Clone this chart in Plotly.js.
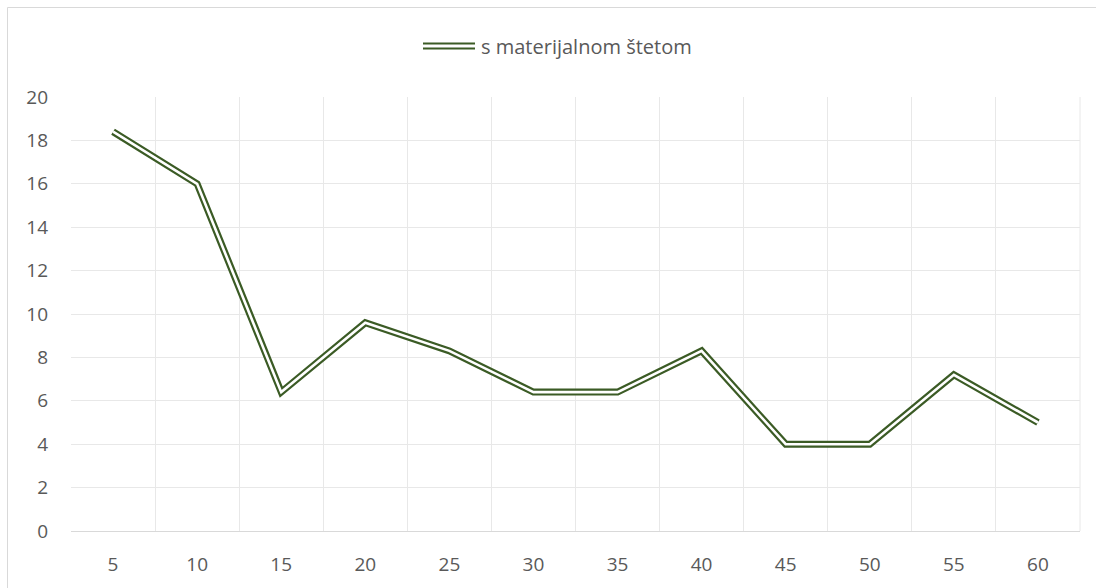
<!DOCTYPE html>
<html>
<head>
<meta charset="utf-8">
<script src="https://cdn.plot.ly/plotly-3.0.1.min.js"></script>
<style>html,body{margin:0;padding:0;background:#fff;}#chart{width:1096px;height:588px;}</style>
</head>
<body>
<div id="chart"></div>
<script>
const categories = ["5","10","15","20","25","30","35","40","45","50","55","60"];
const values = [18.4, 16.0, 6.4, 9.6, 8.3, 6.4, 6.4, 8.3, 4.0, 4.0, 7.2, 5.0];
const seriesName = "s materijalnom štetom";
const yTicks = [0,2,4,6,8,10,12,14,16,18,20];

const lineColor = "#3b5b25";
const textColor = "#595959";
const fontFamily = "Open Sans, Liberation Sans, sans-serif";
const fontSize = 19;

const outer = {
  x: categories, y: values, type: "scatter", mode: "lines", name: seriesName,
  line: {color: lineColor, width: 7}, showlegend: false, hoverinfo: "skip"
};
const inner = {
  x: categories, y: values, type: "scatter", mode: "lines", name: seriesName,
  line: {color: "#ffffff", width: 2.6}, showlegend: false, hoverinfo: "skip"
};

// pixel helpers for paper coords (plot area: x 71..1080, y 97..531)
const L = 71, R = 1080, T = 97, B = 531;
const px = v => (v - L) / (R - L);
const py = v => (B - v) / (B - T);

const layout = {
  width: 1096, height: 588,
  margin: {l: L, r: 1096 - R, t: T, b: 588 - B},
  paper_bgcolor: "#ffffff", plot_bgcolor: "#ffffff",
  font: {family: fontFamily, size: fontSize, color: textColor},
  showlegend: false,
  xaxis: {
    type: "category", tickson: "boundaries", range: [-0.5, categories.length - 0.5],
    showgrid: true, gridcolor: "#e8e8e8", gridwidth: 1,
    showline: true, linecolor: "#d9d9d9", linewidth: 1, mirror: false,
    ticks: "", ticklabelstandoff: 16, zeroline: false,
    tickfont: {family: fontFamily, size: fontSize, color: textColor},
    fixedrange: true
  },
  yaxis: {
    range: [0, 20], tickvals: yTicks, ticktext: yTicks.map(String),
    showgrid: true, gridcolor: "#e8e8e8", gridwidth: 1,
    zeroline: false, showline: false, ticks: "", ticklabelstandoff: 22,
    tickfont: {family: fontFamily, size: fontSize, color: textColor},
    fixedrange: true
  },
  shapes: [
    {type: "rect", xref: "paper", yref: "paper", x0: px(7.5), x1: px(1100), y0: py(600), y1: py(7.5),
     line: {color: "#d9d9d9", width: 1}, fillcolor: "rgba(0,0,0,0)", layer: "below"},
    {type: "line", xref: "paper", yref: "paper", x0: px(1080), x1: px(1080), y0: 0, y1: 1,
     line: {color: "#e8e8e8", width: 1}, layer: "below"},
    {type: "line", xref: "paper", yref: "paper", x0: px(423), x1: px(475), y0: py(43.5), y1: py(43.5),
     line: {color: lineColor, width: 2.2}},
    {type: "line", xref: "paper", yref: "paper", x0: px(423), x1: px(475), y0: py(48.5), y1: py(48.5),
     line: {color: lineColor, width: 2.2}}
  ],
  annotations: [
    {text: seriesName, xref: "paper", yref: "paper", x: px(479), y: py(46), xanchor: "left", yanchor: "middle",
     showarrow: false, font: {family: fontFamily, size: 20, color: textColor}}
  ]
};

Plotly.newPlot("chart", [outer, inner], layout, {staticPlot: true, displayModeBar: false});
</script>
</body>
</html>
